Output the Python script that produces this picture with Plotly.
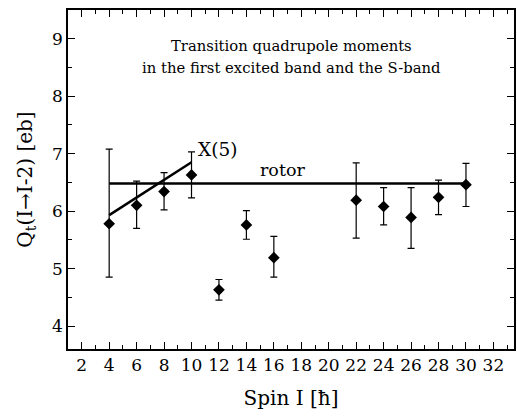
import plotly.graph_objects as go

spin = [4, 6, 8, 10, 12, 14, 16, 22, 24, 26, 28, 30]
qt = [5.78, 6.10, 6.34, 6.63, 4.63, 5.76, 5.19, 6.19, 6.08, 5.89, 6.24, 6.46]
err_plus = [1.30, 0.42, 0.33, 0.40, 0.18, 0.25, 0.37, 0.65, 0.33, 0.52, 0.30, 0.37]
err_minus = [0.93, 0.40, 0.32, 0.40, 0.18, 0.25, 0.34, 0.66, 0.32, 0.54, 0.30, 0.38]

x5_spin = [4, 6, 8, 10]
x5_q = [5.93, 6.24, 6.54, 6.85]

rotor_spin = [4, 30]
rotor_q = [6.48, 6.48]

x_ticks = list(range(2, 33, 2))
y_ticks = [4, 5, 6, 7, 8, 9]

title_lines = ["Transition quadrupole moments", "in the first excited band and the S-band"]

FONT = "'DejaVu Serif', 'Liberation Serif', serif"

fig = go.Figure()
fig.add_trace(go.Scatter(x=rotor_spin, y=rotor_q, mode="lines",
                         line=dict(color="black", width=2.5), showlegend=False))
fig.add_trace(go.Scatter(x=x5_spin, y=x5_q, mode="lines",
                         line=dict(color="black", width=2.5), showlegend=False))
fig.add_trace(go.Scatter(
    x=spin, y=qt, mode="markers",
    marker=dict(symbol="diamond", size=9, color="black"),
    error_y=dict(type="data", symmetric=False, array=err_plus, arrayminus=err_minus,
                 color="black", thickness=1.2, width=3.5),
    showlegend=False))

fig.add_annotation(x=10.3, y=7.08, text="X(5)", showarrow=False, xanchor="left",
                   font=dict(family=FONT, size=18.5, color="black"))
fig.add_annotation(x=16.6, y=6.71, text="rotor", showarrow=False,
                   font=dict(family=FONT, size=17.5, color="black"))
for txt, yv in zip(title_lines, [8.88, 8.50]):
    fig.add_annotation(x=17.25, y=yv, text=txt, showarrow=False, align="center",
                       font=dict(family=FONT, size=14.8, color="black"))

axis_common = dict(showgrid=False, zeroline=False, showline=True, linecolor="black",
                   linewidth=1.5, mirror="ticks", ticks="inside", tickcolor="black",
                   tickwidth=1.2, ticklen=7,
                   tickfont=dict(family=FONT, size=17, color="black"))

fig.update_xaxes(range=[1, 33.5], tickvals=x_ticks,
                 minor=dict(dtick=1, tick0=1, ticks="inside", ticklen=4, tickcolor="black"),
                 title=dict(text="Spin I [ħ]", font=dict(family=FONT, size=20, color="black"),
                            standoff=17),
                 **axis_common)
fig.update_yaxes(range=[3.6, 9.5], tickvals=y_ticks,
                 minor=dict(dtick=0.5, tick0=0.5, ticks="inside", ticklen=4, tickcolor="black"),
                 title=dict(text="Q<sub>t</sub>(I→I-2) [eb]", font=dict(family=FONT, size=20, color="black"),
                            standoff=14),
                 **axis_common)

fig.update_layout(width=517, height=416, margin=dict(l=68, r=1, t=10, b=67),
                  plot_bgcolor="white", paper_bgcolor="white",
                  font=dict(family=FONT, color="black"))

fig.write_html("out.html")
